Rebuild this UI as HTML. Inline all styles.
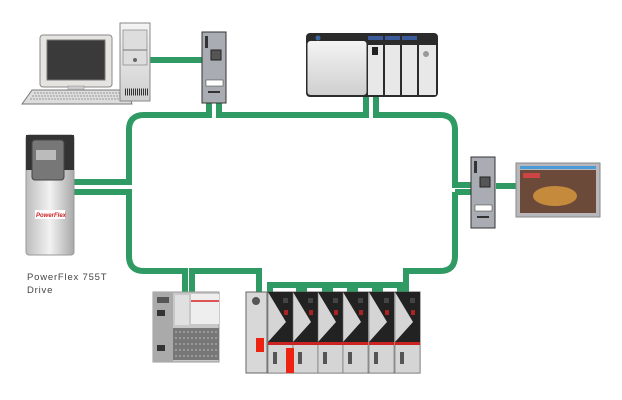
<!DOCTYPE html>
<html><head><style>
html,body{margin:0;padding:0;background:#fff;}
svg{display:block;}
text{font-family:"Liberation Sans",sans-serif;}
</style></head><body>
<svg width="622" height="400" viewBox="0 0 622 400" xmlns="http://www.w3.org/2000/svg">
<defs>
<linearGradient id="gd" x1="0" x2="1"><stop offset="0" stop-color="#bdbdbd"/><stop offset=".5" stop-color="#f2f2f2"/><stop offset="1" stop-color="#a8a8a8"/></linearGradient>
<linearGradient id="gc" x1="0" x2="0" y1="0" y2="1"><stop offset="0" stop-color="#f4f4f4"/><stop offset="1" stop-color="#cfcfcf"/></linearGradient>
</defs>
<g fill="none" stroke="#2f9a63" stroke-width="6">
<path d="M150 60 H203"/>
<path d="M209 100 V115 H144 Q129 115 129 130 V182 H74"/>
<path d="M219 100 V115 H366 V96"/>
<path d="M376 96 V115 H440 Q455 115 455 130 V185 H471"/>
<path d="M455 192 H471"/>
<path d="M496 186 H517"/>
<path d="M455 192 V256 Q455 271 440 271 H406 V292"/>
<path d="M74 192 H129 V256 Q129 271 144 271 H185 V292"/>
<path d="M192 292 V271 H259 V292"/>
<path d="M270 292 V285 H299 V292"/>
<path d="M304 292 V285 H325 V292"/>
<path d="M330 292 V285 H350 V292"/>
<path d="M355 292 V285 H375 V292"/>
<path d="M380 292 V285 H400 V292"/>
</g>
<rect x="40" y="35" width="72" height="52" rx="3" fill="#e6e4e0" stroke="#888"/>
<rect x="47" y="40" width="58" height="40" fill="#3a3a3a" stroke="#777"/>
<rect x="68" y="86" width="16" height="5" fill="#ccc" stroke="#888" stroke-width=".5"/>
<path d="M22 104 L32 90 H128 L132 104 Z" fill="#ddd" stroke="#777"/>
<path d="M34 93 H126 M32 96 H127 M30 99 H128" stroke="#999" stroke-dasharray="2 1"/>
<rect x="120" y="23" width="30" height="78" fill="url(#gc)" stroke="#888"/>
<rect x="123" y="30" width="24" height="35" fill="#ddd" stroke="#777" stroke-width=".6"/>
<path d="M123 50 H147" stroke="#777"/>
<circle cx="135" cy="60" r="2" fill="#666"/>
<path d="M125 92 H148" stroke="#333" stroke-width="7" stroke-dasharray="1 1"/>
<g transform="translate(202,32)">
<rect width="24" height="71" fill="#a9acb3" stroke="#333"/>
<rect x="3" y="4" width="3" height="12" fill="#333"/>
<rect x="9" y="18" width="10" height="10" fill="#555" stroke="#222"/>
<rect x="4" y="48" width="17" height="6" fill="#fff" stroke="#333" stroke-width=".5"/>
<path d="M6 60 L18 60" stroke="#333" stroke-width="2"/>
</g>
<g transform="translate(306,33)">
<rect width="132" height="64" rx="4" fill="#2b2b2b"/>
<rect x="1.5" y="8" width="59" height="54" rx="3" fill="url(#gc)"/>
<rect x="62" y="12" width="15" height="50" fill="#e8e8e8"/>
<rect x="79" y="12" width="15" height="50" fill="#e8e8e8"/>
<rect x="96" y="12" width="15" height="50" fill="#e8e8e8"/>
<rect x="113" y="12" width="17" height="50" fill="#e8e8e8"/>
<rect x="62" y="3" width="15" height="4" fill="#3b5a9a"/>
<rect x="79" y="3" width="15" height="4" fill="#3b5a9a"/>
<rect x="96" y="3" width="15" height="4" fill="#3b5a9a"/>
<rect x="66" y="14" width="6" height="8" fill="#222"/>
<circle cx="120" cy="21" r="3" fill="#999"/>
<circle cx="12" cy="5" r="2.5" fill="#3b6aa0"/>
</g>
<g transform="translate(471,157)">
<rect width="24" height="71" fill="#a9acb3" stroke="#333"/>
<rect x="3" y="4" width="3" height="12" fill="#333"/>
<rect x="9" y="20" width="10" height="10" fill="#555" stroke="#222"/>
<rect x="4" y="48" width="17" height="6" fill="#fff" stroke="#333" stroke-width=".5"/>
<path d="M6 60 L18 60" stroke="#333" stroke-width="2"/>
</g>
<rect x="516" y="163" width="84" height="54" fill="#b8b8bc" stroke="#888"/>
<rect x="520" y="166" width="76" height="3" fill="#4a9ad8"/>
<rect x="520" y="170" width="76" height="43" fill="#6b4a3a"/>
<ellipse cx="555" cy="196" rx="22" ry="10" fill="#c68a3c"/>
<rect x="523" y="173" width="17" height="5" fill="#c44"/>
<rect x="26" y="135" width="48" height="120" rx="3" fill="url(#gd)" stroke="#999"/>
<rect x="26" y="135" width="48" height="35" fill="#333"/>
<rect x="32" y="140" width="32" height="40" rx="3" fill="#777" stroke="#444"/>
<rect x="36" y="150" width="20" height="10" fill="#bbb"/>
<rect x="35" y="210" width="30" height="9" fill="#fff"/>
<text x="36" y="217" font-size="6" font-style="italic" font-weight="bold" fill="#c22">PowerFlex</text>
<text x="27" y="280" font-size="9.5" fill="#444" letter-spacing="0.8">PowerFlex 755T</text>
<text x="27" y="293" font-size="9.5" fill="#444" letter-spacing="0.8">Drive</text>
<g transform="translate(153,292)">
<rect width="66" height="70" fill="#c8c8c8" stroke="#999"/>
<rect x="0" y="0" width="20" height="70" fill="#aaa"/>
<rect x="4" y="5" width="12" height="6" fill="#555"/>
<rect x="4" y="18" width="8" height="6" fill="#333"/>
<rect x="4" y="53" width="8" height="6" fill="#333"/>
<rect x="22" y="3" width="14" height="30" fill="#e0e0e0"/>
<rect x="38" y="2" width="28" height="30" fill="#eee"/>
<rect x="38" y="8" width="28" height="2" fill="#d55"/>
<rect x="20" y="36" width="46" height="32" fill="#777"/>
<path d="M22 40 H64 M22 46 H64 M22 52 H64 M22 58 H64 M22 64 H64" stroke="#bbb" stroke-dasharray="2 2"/>
</g>
<g transform="translate(246,292)">
<rect width="174" height="81" fill="#c4c4c4" stroke="#555"/>
<rect x="0" y="0" width="21" height="81" fill="#d8d8d8" stroke="#666"/>
<circle cx="10" cy="9" r="4" fill="#555"/>
<rect x="10" y="46" width="8" height="14" fill="#e21"/>
<g id="m">
<rect x="22" y="0" width="25" height="81" fill="#d5d5d5" stroke="#666" stroke-width=".6"/>
<path d="M22 0 H47 V50 H22 L40 30 Z" fill="#222"/>
<rect x="37" y="6" width="5" height="5" fill="#444"/>
<rect x="38" y="18" width="4" height="5" fill="#a22"/>
<rect x="22" y="50" width="25" height="3" fill="#c22"/>
<rect x="27" y="60" width="4" height="12" fill="#555"/>
</g>
<use href="#m" x="25"/><use href="#m" x="50"/><use href="#m" x="75"/><use href="#m" x="101"/><use href="#m" x="127"/>
<rect x="40" y="56" width="8" height="25" fill="#e21"/>
</g>
</svg>
</body></html>
